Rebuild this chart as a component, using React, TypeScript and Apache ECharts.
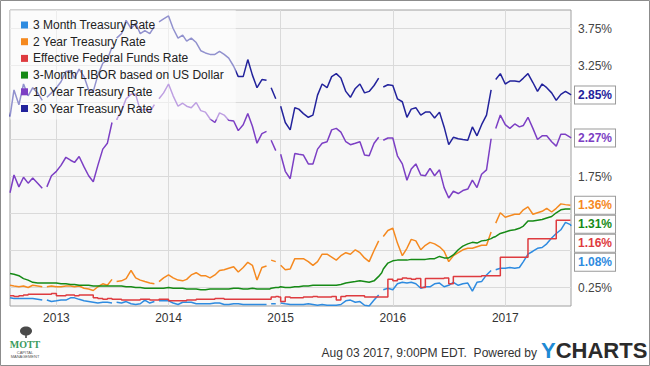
import React, { useEffect, useRef } from "react";
import * as echarts from "echarts";

const dates = [
  "2012-08-03","2012-08-16","2012-09-01","2012-09-16","2012-10-01","2012-10-16","2012-11-01","2012-11-16","2012-11-22","2012-12-01","2012-12-16",
  "2013-01-01","2013-01-16","2013-02-01","2013-02-16","2013-03-01","2013-03-16","2013-04-01","2013-04-16","2013-05-01","2013-05-16","2013-06-01","2013-06-16","2013-07-01","2013-07-04","2013-07-16","2013-08-01","2013-08-16","2013-09-01","2013-09-16","2013-10-01","2013-10-16","2013-11-01","2013-11-16","2013-11-28","2013-12-01","2013-12-16",
  "2014-01-01","2014-01-16","2014-02-01","2014-02-16","2014-03-01","2014-03-16","2014-04-01","2014-04-16","2014-05-01","2014-05-16","2014-06-01","2014-06-16","2014-07-01","2014-07-16","2014-08-01","2014-08-16","2014-09-01","2014-09-16","2014-10-01","2014-10-16","2014-11-01","2014-11-16","2014-11-27","2014-12-01","2014-12-16","2014-12-25",
  "2015-01-01","2015-01-16","2015-02-01","2015-02-16","2015-03-01","2015-03-16","2015-04-01","2015-04-16","2015-05-01","2015-05-16","2015-06-01","2015-06-16","2015-07-01","2015-07-16","2015-08-01","2015-08-16","2015-09-01","2015-09-16","2015-10-01","2015-10-16","2015-11-01","2015-11-16","2015-11-26","2015-12-01","2015-12-16",
  "2016-01-01","2016-01-16","2016-02-01","2016-02-16","2016-03-01","2016-03-16","2016-04-01","2016-04-16","2016-05-01","2016-05-16","2016-06-01","2016-06-16","2016-07-01","2016-07-16","2016-08-01","2016-08-16","2016-09-01","2016-09-16","2016-10-01","2016-10-16","2016-11-01","2016-11-16","2016-11-24","2016-12-01","2016-12-16",
  "2017-01-01","2017-01-16","2017-02-01","2017-02-16","2017-03-01","2017-03-16","2017-04-01","2017-04-16","2017-05-01","2017-05-16","2017-06-01","2017-06-16","2017-07-01","2017-07-16","2017-08-01","2017-08-03",
];

const threeMonth = [
  0.11, 0.10, 0.10, 0.10, 0.10, 0.10, 0.09, 0.08, null, 0.08, 0.06,
  0.07, 0.08, 0.08, 0.11, 0.11, 0.09, 0.07, 0.06, 0.05, 0.04, 0.05, 0.05, 0.04, null, 0.05, 0.04, 0.06, 0.03, 0.02, 0.03, 0.08, 0.04, 0.06, null, 0.07, 0.07,
  0.07, 0.04, 0.02, 0.05, 0.05, 0.05, 0.03, 0.03, 0.03, 0.03, 0.04, 0.04, 0.02, 0.02, 0.03, 0.03, 0.02, 0.02, 0.02, 0.02, 0.02, 0.02, null, 0.03, 0.03, null,
  0.04, 0.03, 0.02, 0.02, 0.02, 0.02, 0.03, 0.02, 0.01, 0.02, 0.01, 0.01, 0.01, 0.02, 0.07, 0.08, 0.05, 0.06, 0.01, 0.00, 0.08, 0.15, null, 0.22, 0.24,
  0.22, 0.30, 0.32, 0.31, 0.32, 0.30, 0.24, 0.26, 0.26, 0.30, 0.31, 0.26, 0.28, 0.32, 0.28, 0.30, 0.31, 0.20, 0.32, 0.33, 0.42, 0.48, null, 0.49, 0.51,
  0.51, 0.52, 0.51, 0.52, 0.60, 0.70, 0.74, 0.78, 0.79, 0.84, 0.92, 0.98, 1.03, 1.13, 1.10, 1.08,
];

const twoYear = [
  0.28, 0.27, 0.26, 0.27, 0.25, 0.28, 0.27, 0.26, null, 0.26, 0.27,
  0.26, 0.26, 0.27, 0.27, 0.26, 0.27, 0.24, 0.23, 0.21, 0.26, 0.30, 0.28, 0.36, null, 0.33, 0.34, 0.37, 0.48, 0.38, 0.35, 0.33, 0.31, 0.30, null, 0.33, 0.38,
  0.42, 0.38, 0.35, 0.34, 0.36, 0.42, 0.45, 0.41, 0.41, 0.38, 0.42, 0.48, 0.49, 0.51, 0.53, 0.46, 0.52, 0.59, 0.55, 0.35, 0.52, 0.54, null, 0.62, 0.60, null,
  0.55, 0.49, 0.50, 0.64, 0.64, 0.64, 0.60, 0.55, 0.60, 0.70, 0.70, 0.66, 0.62, 0.68, 0.72, 0.70, 0.76, 0.72, 0.65, 0.60, 0.75, 0.88, null, 0.94, 1.02,
  1.05, 0.85, 0.68, 0.78, 0.90, 0.88, 0.76, 0.82, 0.86, 0.84, 0.80, 0.74, 0.60, 0.68, 0.72, 0.76, 0.78, 0.78, 0.80, 0.82, 0.82, 1.00, null, 1.12, 1.26,
  1.20, 1.22, 1.24, 1.24, 1.30, 1.34, 1.24, 1.26, 1.28, 1.32, 1.27, 1.32, 1.38, 1.37, 1.36, 1.36,
];

const fedFunds = [
  0.14, 0.13, 0.14, 0.15, 0.16, 0.16, 0.16, 0.16, 0.16, 0.16, 0.17,
  0.14, 0.14, 0.15, 0.15, 0.14, 0.15, 0.15, 0.15, 0.11, 0.10, 0.09, 0.10, 0.09, 0.09, 0.09, 0.08, 0.08, 0.08, 0.08, 0.09, 0.09, 0.08, 0.08, 0.08, 0.09, 0.09,
  0.07, 0.07, 0.07, 0.07, 0.08, 0.08, 0.09, 0.09, 0.09, 0.09, 0.10, 0.10, 0.09, 0.09, 0.09, 0.09, 0.09, 0.09, 0.09, 0.09, 0.09, 0.09, 0.09, 0.12, 0.13, 0.12,
  0.06, 0.12, 0.11, 0.11, 0.11, 0.12, 0.12, 0.13, 0.12, 0.12, 0.12, 0.13, 0.08, 0.13, 0.14, 0.14, 0.14, 0.14, 0.12, 0.12, 0.12, 0.12, 0.12, 0.12, 0.36,
  0.34, 0.36, 0.38, 0.37, 0.36, 0.37, 0.25, 0.37, 0.37, 0.37, 0.37, 0.38, 0.30, 0.40, 0.40, 0.40, 0.40, 0.40, 0.40, 0.41, 0.41, 0.41, 0.41, 0.41, 0.66,
  0.66, 0.66, 0.66, 0.66, 0.66, 0.91, 0.91, 0.91, 0.91, 0.91, 0.91, 1.16, 1.16, 1.16, 1.16, 1.16,
];

const libor = [
  0.44, 0.43, 0.41, 0.37, 0.35, 0.32, 0.31, 0.31, 0.31, 0.31, 0.31,
  0.31, 0.30, 0.30, 0.29, 0.29, 0.28, 0.28, 0.28, 0.27, 0.27, 0.27, 0.27, 0.27, 0.27, 0.27, 0.27, 0.26, 0.26, 0.25, 0.25, 0.24, 0.24, 0.24, 0.24, 0.24, 0.24,
  0.25, 0.24, 0.24, 0.24, 0.23, 0.23, 0.23, 0.22, 0.22, 0.23, 0.23, 0.23, 0.23, 0.23, 0.24, 0.24, 0.23, 0.23, 0.24, 0.23, 0.23, 0.23, 0.23, 0.24, 0.25, 0.25,
  0.26, 0.25, 0.25, 0.26, 0.26, 0.27, 0.27, 0.28, 0.28, 0.28, 0.28, 0.28, 0.28, 0.29, 0.31, 0.32, 0.33, 0.34, 0.33, 0.32, 0.34, 0.40, 0.45, 0.50, 0.58,
  0.61, 0.62, 0.62, 0.62, 0.63, 0.63, 0.63, 0.63, 0.64, 0.64, 0.67, 0.65, 0.65, 0.69, 0.76, 0.81, 0.84, 0.86, 0.85, 0.88, 0.89, 0.91, 0.93, 0.94, 0.98,
  1.00, 1.02, 1.03, 1.05, 1.08, 1.15, 1.15, 1.16, 1.17, 1.19, 1.21, 1.26, 1.30, 1.31, 1.31, 1.31,
];

const tenYear = [
  1.53, 1.77, 1.61, 1.74, 1.66, 1.73, 1.66, 1.59, null, 1.61, 1.76,
  1.82, 1.90, 2.01, 1.97, 1.94, 2.02, 1.88, 1.76, 1.68, 1.90, 2.12, 2.20, 2.48, null, 2.52, 2.64, 2.80, 2.86, 2.86, 2.64, 2.66, 2.62, 2.72, null, 2.80, 2.88,
  3.00, 2.84, 2.70, 2.74, 2.70, 2.68, 2.75, 2.64, 2.62, 2.53, 2.48, 2.61, 2.58, 2.51, 2.50, 2.37, 2.45, 2.60, 2.43, 2.20, 2.33, 2.36, null, 2.24, 2.10, null,
  2.05, 1.82, 1.72, 2.06, 2.05, 2.04, 1.92, 1.92, 2.12, 2.20, 2.22, 2.38, 2.40, 2.35, 2.22, 2.18, 2.20, 2.22, 2.04, 2.03, 2.20, 2.28, null, 2.24, 2.27,
  2.27, 2.03, 1.92, 1.70, 1.85, 1.92, 1.77, 1.76, 1.86, 1.76, 1.84, 1.60, 1.46, 1.55, 1.52, 1.56, 1.58, 1.70, 1.60, 1.78, 1.84, 2.26, null, 2.40, 2.58,
  2.45, 2.40, 2.46, 2.42, 2.44, 2.55, 2.40, 2.25, 2.30, 2.30, 2.22, 2.16, 2.32, 2.32, 2.28, 2.27,
];

const thirtyYear = [
  2.56, 2.92, 2.72, 3.00, 2.84, 2.95, 2.88, 2.78, null, 2.82, 2.88,
  2.95, 3.03, 3.17, 3.18, 3.08, 3.20, 3.10, 2.92, 2.90, 3.12, 3.28, 3.33, 3.50, null, 3.62, 3.68, 3.86, 3.75, 3.82, 3.68, 3.72, 3.68, 3.78, null, 3.84, 3.88,
  3.92, 3.75, 3.62, 3.66, 3.58, 3.62, 3.56, 3.45, 3.42, 3.40, 3.40, 3.44, 3.40, 3.35, 3.24, 3.10, 3.10, 3.33, 3.12, 2.95, 3.06, 3.05, null, 2.95, 2.80, null,
  2.70, 2.48, 2.38, 2.68, 2.66, 2.60, 2.55, 2.58, 2.85, 3.00, 2.95, 3.10, 3.14, 3.08, 2.90, 2.82, 2.94, 3.00, 2.88, 2.90, 2.98, 3.08, null, 2.96, 2.99,
  2.98, 2.80, 2.76, 2.55, 2.66, 2.68, 2.58, 2.62, 2.62, 2.54, 2.62, 2.42, 2.18, 2.28, 2.26, 2.25, 2.24, 2.42, 2.30, 2.45, 2.58, 2.92, null, 3.06, 3.14,
  3.00, 3.04, 3.04, 3.03, 3.08, 3.14, 3.02, 2.90, 3.00, 2.95, 2.88, 2.78, 2.86, 2.90, 2.86, 2.85,
];

const seriesNames = [
  "3 Month Treasury Rate",
  "2 Year Treasury Rate",
  "Effective Federal Funds Rate",
  "3-Month LIBOR based on US Dollar",
  "10 Year Treasury Rate",
  "30 Year Treasury Rate",
];
const seriesColors = ["#2e8be0", "#f5891f", "#de3b3f", "#168a16", "#7c3fc4", "#23239c"];
// grid lines every 0.5% (offset by 0.25); labels where the reference shows them uncovered
const yGridTicks = [0.25, 0.75, 1.25, 1.75, 2.25, 2.75, 3.25, 3.75];
const yLabelTicks = [0.25, 1.75, 3.25, 3.75];
const yearTicks = ["2013-01-01", "2014-01-01", "2015-01-01", "2016-01-01", "2017-01-01"];
const xRange = ["2012-08-03", "2017-08-03"];

const FONT = "'Liberation Sans', Arial, sans-serif";
const ts = (s: string) => +new Date(s + "T00:00:00");

export default function App() {
  const ref = useRef<HTMLDivElement>(null);
  useEffect(() => {
    const chart = echarts.init(ref.current!, null, { renderer: "svg" });
    const allData = [threeMonth, twoYear, fedFunds, libor, tenYear, thirtyYear];
    const series = allData.map((vals, i) => ({
      name: seriesNames[i],
      type: "line",
      data: dates.map((d, j) => [ts(d), vals[j] == null ? "-" : vals[j]]),
      showSymbol: false,
      symbol: "none",
      connectNulls: false,
      step: i === 2 ? "end" : undefined,
      color: seriesColors[i],
      lineStyle: { width: 1.5, color: seriesColors[i] },
      emphasis: { disabled: true },
      endLabel: {
        show: true,
        formatter: (p: any) => Number(p.value[1]).toFixed(2) + "%",
        color: seriesColors[i],
        fontFamily: FONT,
        fontWeight: "bold",
        fontSize: 12,
        lineHeight: 14,
        backgroundColor: "#ffffff",
        borderColor: "#9a9a9a",
        borderWidth: 1,
        padding: [2, 3, 1, 3],
        distance: 4,
      },
      labelLayout: { moveOverlap: "shiftY" },
    }));

    const yearTs = yearTicks.map(ts);

    chart.setOption({
      animation: false,
      backgroundColor: "#ffffff",
      grid: {
        left: 10,
        right: 79,
        top: 10,
        bottom: 60,
        show: true,
        backgroundColor: "#f7f7f7",
        borderColor: "#a0a0a0",
        borderWidth: 1,
      },
      legend: {
        orient: "vertical",
        left: 10,
        top: 10,
        padding: [9, 12, 5, 11],
        itemGap: 4.7,
        itemWidth: 7,
        itemHeight: 7,
        icon: "rect",
        backgroundColor: "rgba(255,255,255,0.5)",
        textStyle: { fontFamily: FONT, fontSize: 12, color: "#222", lineHeight: 12 },
        data: seriesNames,
        selectedMode: false,
      },
      xAxis: {
        type: "value",
        min: ts(xRange[0]),
        max: ts(xRange[1]),
        axisLine: { show: false },
        axisTick: { show: false, customValues: yearTs },
        axisLabel: {
          customValues: yearTs,
          formatter: (v: number) => String(new Date(v).getFullYear()),
          color: "#333",
          fontFamily: FONT,
          fontSize: 12,
          margin: 6,
        },
        splitLine: { show: true, lineStyle: { color: "#dadada", width: 1 } },
      },
      yAxis: {
        type: "value",
        position: "right",
        min: 0,
        max: 4,
        axisLine: { show: false },
        axisTick: { show: false, customValues: yGridTicks },
        axisLabel: {
          customValues: yLabelTicks,
          formatter: (v: number) => v.toFixed(2) + "%",
          color: "#444",
          fontFamily: FONT,
          fontSize: 12,
          margin: 7,
        },
        splitLine: { show: true, lineStyle: { color: "#dadada", width: 1 } },
      },
      series,
      graphic: [
        {
          type: "rect",
          shape: { x: 0.5, y: 0.5, width: 649, height: 365 },
          style: { fill: "none", stroke: "#8c8c8c", lineWidth: 1 },
          silent: true,
          z: 100,
        },
        {
          type: "text",
          x: 537,
          y: 353,
          style: {
            text: "Aug 03 2017, 9:00PM EDT.  Powered by",
            align: "right",
            verticalAlign: "middle",
            fontFamily: FONT,
            fontSize: 12,
            fill: "#333",
          },
        },
        {
          type: "text",
          x: 541,
          y: 350,
          style: {
            text: "{y|Y}{c|CHARTS}",
            align: "left",
            verticalAlign: "middle",
            rich: {
              y: { fontFamily: FONT, fontWeight: "bold", fontSize: 22, fill: "#1e8ad4" },
              c: { fontFamily: FONT, fontWeight: "bold", fontSize: 22, fill: "#2b2b2b" },
            },
          },
        },
        {
          type: "ellipse",
          shape: { cx: 26, cy: 331, rx: 6, ry: 4.5 },
          style: { fill: "#4a4a4a" },
        },
        {
          type: "rect",
          shape: { x: 25.2, y: 333, width: 1.6, height: 5 },
          style: { fill: "#4a4a4a" },
        },
        {
          type: "text",
          x: 25,
          y: 344,
          style: {
            text: "MOTT",
            align: "center",
            verticalAlign: "middle",
            fontFamily: "'Liberation Serif', serif",
            fontWeight: "bold",
            fontSize: 10,
            fill: "#3b9a5c",
          },
        },
        {
          type: "text",
          x: 25,
          y: 352,
          style: { text: "CAPITAL", align: "center", verticalAlign: "middle", fontFamily: FONT, fontSize: 4, fill: "#555" },
        },
        {
          type: "text",
          x: 25,
          y: 356,
          style: { text: "MANAGEMENT", align: "center", verticalAlign: "middle", fontFamily: FONT, fontSize: 4, fill: "#555" },
        },
      ],
    });
    return () => chart.dispose();
  }, []);
  return <div ref={ref} style={{ position: "fixed", left: 0, top: 0, width: 650, height: 366 }} />;
}
